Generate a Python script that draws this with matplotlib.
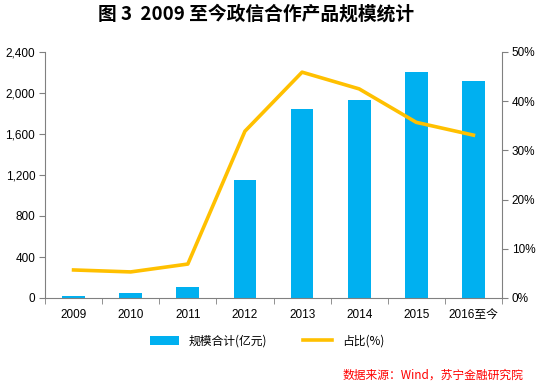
import matplotlib.pyplot as plt
import numpy as np
from matplotlib.ticker import FuncFormatter

plt.rcParams['font.family'] = ['Liberation Sans', 'Noto Sans CJK SC', 'DejaVu Sans']

years = ['2009', '2010', '2011', '2012', '2013', '2014', '2015', '2016至今']
scale = [22, 45, 110, 1150, 1845, 1930, 2205, 2115]
share = [5.7, 5.3, 6.9, 33.9, 45.9, 42.5, 35.7, 33.1]

grey = '#808080'

fig = plt.figure(figsize=(5.45, 3.84), dpi=100)
ax = fig.add_axes([45 / 545, 1 - 298 / 384, 457 / 545, 246 / 384])
ax2 = ax.twinx()

x = np.arange(len(years))
ax.bar(x, scale, width=0.4, color='#00B0F0', label='规模合计(亿元)', zorder=2)
ax2.plot(x, share, color='#FFC000', lw=2.6, label='占比(%)', zorder=3)

ax.set_xlim(-0.5, len(years) - 0.5)
ax.set_ylim(0, 2400)
ax.set_yticks(range(0, 2401, 400))
ax.yaxis.set_major_formatter(FuncFormatter(lambda v, p: f'{int(v):,}'))
ax2.set_ylim(0, 50)
ax2.set_yticks(range(0, 51, 10))
ax2.yaxis.set_major_formatter(FuncFormatter(lambda v, p: f'{int(v)}%'))

# category labels in the middle, ticks on the boundaries
ax.set_xticks(x)
ax.set_xticklabels(years)
ax.set_xticks(np.arange(-0.5, len(years)), minor=True)
ax.tick_params(axis='x', which='major', length=0, pad=8, labelsize=8.5)
ax.tick_params(axis='x', which='minor', length=4, color=grey, direction='out')
ax.tick_params(axis='y', length=4, color=grey, labelsize=8.5, pad=3)
ax2.tick_params(axis='y', length=4, color=grey, labelsize=8.5, pad=3)

for a in (ax, ax2):
    a.spines['top'].set_visible(False)
    for s in ('left', 'right', 'bottom'):
        a.spines[s].set_color(grey)
ax.spines['right'].set_visible(False)
ax2.spines['left'].set_visible(False)
ax2.spines['bottom'].set_visible(False)

fig.text(0.47, 0.962, '图 3  2009 至今政信合作产品规模统计', ha='center', va='center',
         fontsize=13.5, fontweight='bold', family=['Noto Sans CJK SC', 'DejaVu Sans'])

h1, l1 = ax.get_legend_handles_labels()
h2, l2 = ax2.get_legend_handles_labels()
fig.legend(h1 + h2, l1 + l2, loc='center', bbox_to_anchor=(0.49, 1 - 341 / 384), ncol=2,
           frameon=False, handlelength=2.5, columnspacing=3.0,
           prop={'family': ['Noto Sans CJK SC', 'DejaVu Sans'], 'size': 8.5})

fig.text(523 / 545, 1 - 375 / 384, '数据来源：Wind，苏宁金融研究院', ha='right', va='center',
         color='red', fontsize=8.5, style='italic', family=['Noto Sans CJK SC', 'DejaVu Sans'])

fig.savefig('out.png', dpi=100)
